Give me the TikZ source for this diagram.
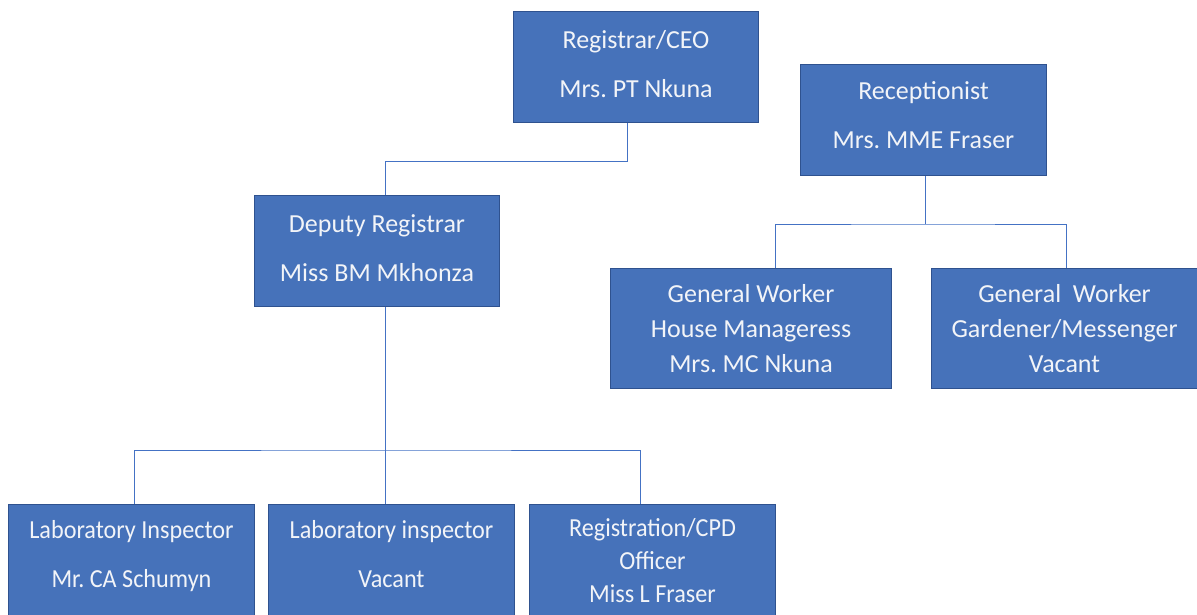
\documentclass[tikz,border=0pt]{standalone}
\usepackage{fontspec}
\setmainfont{Carlito}
\newfontfamily\narrowfont[FakeStretch=0.93]{Carlito}
\frenchspacing
\begin{document}
\begin{tikzpicture}[x=1pt,y=1pt,
  box/.style={draw=boxborder, fill=boxfill, line width=1pt, text=boxtext, align=center, anchor=north west, inner sep=0pt, font=\fontsize{26}{35}\selectfont},
  lowbox/.style={box, font=\narrowfont\fontsize{26}{35}\selectfont},
  conn/.style={draw=linecol, line width=1pt}]
\definecolor{boxfill}{HTML}{4672BA}
\definecolor{boxborder}{HTML}{2F528F}
\definecolor{boxtext}{HTML}{F2F4F8}
\definecolor{linecol}{HTML}{4472C4}
\useasboundingbox (0,0) rectangle (1197,-615);
% boxes
\node[box, minimum width=245, minimum height=111] (ceo) at (513,-11) {Registrar/CEO\\[14pt]Mrs. PT Nkuna\\[-29pt]};
\node[box, minimum width=246, minimum height=111] (rec) at (800,-64) {Receptionist\\[14pt]Mrs. MME Fraser\\[-25pt]};
\node[box, minimum width=245, minimum height=111] (dep) at (254,-195) {Deputy Registrar\\[14pt]Miss BM Mkhonza\\[-29pt]};
\node[box, minimum width=281, minimum height=120] (gw1) at (610,-268) {General Worker\\House Manageress\\Mrs. MC Nkuna};
\node[box, minimum width=266, minimum height=120] (gw2) at (931,-268) {General\ \ Worker\\Gardener/Messenger\\Vacant};
\node[lowbox, minimum width=246, minimum height=112] (lab1) at (8,-504) {Laboratory Inspector\\[14pt]Mr. CA Schumyn\\[-21pt]};
\node[lowbox, minimum width=246, minimum height=112] (lab2) at (268,-504) {Laboratory inspector\\[14pt]Vacant\\[-21pt]};
\node[lowbox, minimum width=246, minimum height=112] (reg) at (529,-504) {Registration/CPD\\[-2pt]Officer\\[-2pt]Miss L Fraser};
% connector x positions
\coordinate (xa) at (627,-162);
\coordinate (xb) at (385,0);
\coordinate (xc) at (925,-224);
\coordinate (xd) at (775,0);
\coordinate (xe) at (1066,0);
\coordinate (xf) at (385,-450);
\coordinate (xg) at (134,0);
\coordinate (xh) at (640,0);
% connectors
\draw[conn] (ceo.south -| xa) -- (xa) -| (dep.north -| xb);
\draw[conn] (rec.south -| xc) -- (xc);
\draw[conn] (gw1.north -| xd) |- (xc) -| (gw2.north -| xe);
\draw[conn] (dep.south -| xf) -- (xf);
\draw[conn] (lab1.north -| xg) |- (xf) -| (reg.north -| xh);
\draw[conn] (xf) -- (lab2.north -| xf);
\end{tikzpicture}
\end{document}
